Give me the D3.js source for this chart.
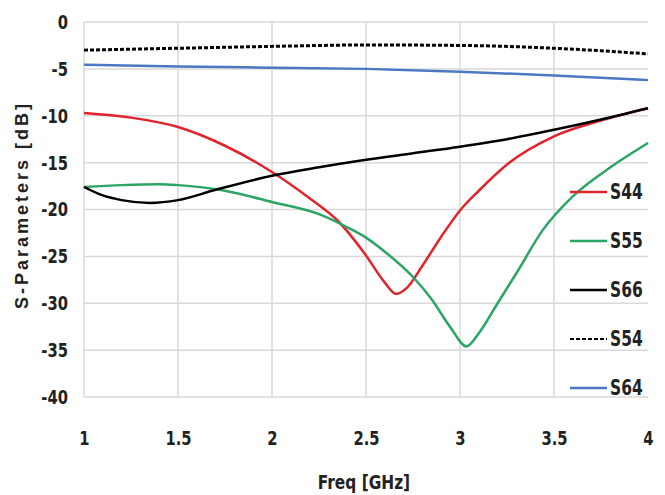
<!DOCTYPE html>
<html>
<head>
  <meta charset="utf-8">
  <style>
    body { margin: 0; background: #fff; }
    .tick text, .lab { font-family: "DejaVu Sans Condensed", "Liberation Sans Narrow", sans-serif; font-stretch: condensed; font-weight: bold; fill: #222; }
  </style>
</head>
<body>
  <svg id="chart"></svg>
  <script src="https://d3js.org/d3.v7.min.js"></script>
  <script>
    var width = 665, height = 495;
    var squeeze = 0.82; // the original font is narrower than anything installed

    // frequency points (GHz) for each trace
    var s44F = [1.0, 1.25, 1.5, 1.75, 2.0, 2.2, 2.35, 2.5, 2.6, 2.66, 2.72, 2.8, 2.9, 3.0, 3.1, 3.25, 3.5, 3.75, 4.0];
    var s44 = [-9.7, -10.2, -11.2, -13.2, -16.0, -18.8, -21.2, -24.9, -27.8, -29.0, -28.3, -26.0, -22.9, -20.1, -18.0, -15.2, -12.2, -10.5, -9.2];

    var s55F = [1.0, 1.2, 1.4, 1.5, 1.75, 2.0, 2.25, 2.4, 2.5, 2.6, 2.75, 2.85, 2.95, 3.035, 3.1, 3.2, 3.3, 3.44, 3.6, 3.8, 4.0];
    var s55 = [-17.6, -17.4, -17.3, -17.4, -18.0, -19.2, -20.5, -21.9, -23.0, -24.5, -27.2, -29.6, -32.6, -34.6, -33.2, -30.0, -26.8, -22.2, -18.6, -15.5, -12.9];

    var s66F = [1.0, 1.1, 1.2, 1.35, 1.5, 1.7, 2.0, 2.25, 2.5, 2.75, 3.0, 3.25, 3.5, 3.75, 4.0];
    var s66 = [-17.6, -18.5, -19.0, -19.3, -19.0, -17.9, -16.4, -15.5, -14.7, -14.0, -13.3, -12.5, -11.5, -10.4, -9.2];

    var flatF = [1.0, 1.5, 2.0, 2.5, 3.0, 3.5, 4.0];
    var s54 = [-3.0, -2.8, -2.6, -2.45, -2.5, -2.8, -3.4];
    var s64 = [-4.55, -4.75, -4.87, -5.0, -5.3, -5.7, -6.2];

    var xTicks = [1, 1.5, 2, 2.5, 3, 3.5, 4];
    var yTicks = [0, -5, -10, -15, -20, -25, -30, -35, -40];

    var series = [
      { name: "S44", f: s44F, v: s44, color: "#e0242c", dash: null },
      { name: "S55", f: s55F, v: s55, color: "#2ba565", dash: null },
      { name: "S66", f: s66F, v: s66, color: "#000000", dash: null },
      { name: "S54", f: flatF, v: s54, color: "#000000", dash: "4,2" },
      { name: "S64", f: flatF, v: s64, color: "#4a78c2", dash: null }
    ];

    var svg = d3.select("#chart").attr("width", width).attr("height", height);

    var x = d3.scaleLinear().domain([1, 4]).range([84, 648]);
    var y = d3.scaleLinear().domain([-40, 0]).range([397, 22]);

    // grid
    svg.append("g").selectAll("line").data(yTicks).enter().append("line")
      .attr("x1", x(1)).attr("x2", x(4))
      .attr("y1", d => y(d)).attr("y2", d => y(d))
      .attr("stroke", "#d9d9d9").attr("stroke-width", 1.5);
    svg.append("g").selectAll("line").data(xTicks.slice(0, -1)).enter().append("line")
      .attr("x1", d => x(d)).attr("x2", d => x(d))
      .attr("y1", y(0)).attr("y2", y(-40))
      .attr("stroke", "#d9d9d9").attr("stroke-width", 1.5);

    // axes (labels only)
    var yAxis = svg.append("g").attr("transform", "translate(68,0)")
      .call(d3.axisLeft(y).tickValues(yTicks).tickSize(0).tickFormat(d => String(d)));
    yAxis.select(".domain").remove();
    yAxis.selectAll("text").attr("font-size", 20).attr("x", 0)
      .attr("transform", "scale(" + squeeze + ",1)");

    var xAxis = svg.append("g").attr("transform", "translate(0,428)")
      .call(d3.axisBottom(x).tickValues(xTicks).tickSize(0).tickFormat(d => String(d)));
    xAxis.select(".domain").remove();
    xAxis.selectAll("text").attr("font-size", 20)
      .attr("transform", "scale(" + squeeze + ",1)");

    svg.append("text").attr("class", "lab")
      .attr("transform", "translate(364,489) scale(0.9,1)")
      .attr("text-anchor", "middle")
      .attr("font-size", 19).text("Freq [GHz]");

    svg.append("text").attr("class", "lab")
      .attr("transform", "translate(28,205) rotate(-90)")
      .attr("text-anchor", "middle").attr("font-size", 18)
      .style("font-family", "'Liberation Sans', Arial, sans-serif")
      .style("font-stretch", "normal")
      .attr("letter-spacing", 3)
      .text("S-Parameters [dB]");

    // traces
    var line = d3.line().curve(d3.curveMonotoneX);
    svg.append("g").selectAll("path").data(series).enter().append("path")
      .attr("d", s => line(s.f.map((f, i) => [x(f), y(s.v[i])])))
      .attr("fill", "none")
      .attr("stroke", s => s.color)
      .attr("stroke-width", s => s.dash ? 3 : 2.5)
      .attr("stroke-dasharray", s => s.dash);

    // legend
    var leg = svg.append("g").selectAll("g").data(series).enter().append("g")
      .attr("transform", (s, i) => "translate(570," + (192 + i * 49) + ")");
    leg.append("line").attr("x1", 0).attr("x2", 37).attr("y1", 0).attr("y2", 0)
      .attr("stroke", s => s.color).attr("stroke-width", s => s.dash ? 2 : 2.5)
      .attr("stroke-dasharray", s => s.dash);
    leg.append("text").attr("class", "lab")
      .attr("transform", "translate(40,7) scale(" + squeeze + ",1)")
      .attr("font-size", 21)
      .text(s => s.name);
  </script>
</body>
</html>
